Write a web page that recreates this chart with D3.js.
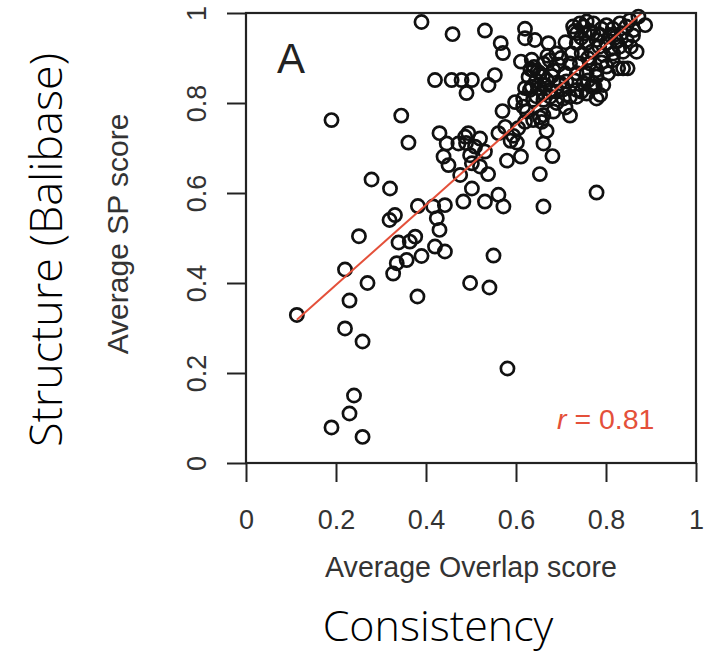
<!DOCTYPE html>
<html>
<head>
<meta charset="utf-8">
<script src="https://cdn.jsdelivr.net/npm/d3@7"></script>
<style>
  html, body { margin: 0; padding: 0; background: #fff; }
  svg { display: block; }
</style>
</head>
<body>
<svg id="chart" width="705" height="654"></svg>
<script>
// Average Overlap score (x) for each alignment
const overlapScore = [
  0.113,0.19,0.23,0.24,0.259,0.22,0.259,0.23,0.22,0.27,0.381,0.498,0.541,0.581,0.55,0.19,0.279,0.32,0.251,
  0.327,0.335,0.339,0.357,0.364,0.376,0.39,0.42,0.442,0.43,0.424,0.416,0.442,0.382,0.319,0.331,
  0.483,0.531,0.561,0.572,0.661,0.779,0.476,0.502,0.502,0.52,0.538,0.498,0.509,0.487,0.52,0.531,
  0.439,0.45,0.43,0.446,0.472,0.489,0.494,0.561,0.361,0.345,0.58,0.594,0.588,0.602,0.576,0.57,
  0.611,0.653,0.661,0.668,0.681,0.598,0.616,0.624,0.638,0.657,0.661,0.683,0.72,0.605,0.62,0.653,
  0.638,0.661,0.676,0.69,0.72,0.735,0.757,0.779,
  0.39,0.459,0.42,0.457,0.479,0.502,0.49,0.539,0.553,0.531,0.566,0.571,0.62,0.62,0.642,0.672,0.611,0.631,
  0.635,0.638,0.661,0.653,0.668,0.683,0.676,0.653,0.635,0.62,0.616,0.661,0.69,0.698,0.709,
  0.727,0.742,0.757,0.772,0.735,0.753,0.772,0.735,0.757,0.779,0.724,0.746,0.768,0.72,0.742,0.764,
  0.735,0.757,0.779,0.75,0.772,0.735,0.712,
  0.801,0.831,0.853,0.872,0.887,0.787,0.809,0.835,0.861,0.801,0.824,0.846,0.868,0.794,0.816,0.838,
  0.801,0.827,0.838,0.848,0.779,0.805,0.775,0.794,0.787,0.768,
  0.645,0.66,0.675,0.695,0.705,0.69,0.645,0.628,0.70,0.75,0.765,0.745,0.79,0.815,0.845,0.86,
  0.81,0.83,0.855,0.79,0.815,0.76,0.73,0.705,0.71,0.745,
  0.632,0.648,0.665,0.68,0.64,0.67,0.71,0.73,0.76,0.785,0.82
];
// Average SP score (y) for each alignment
const spScore = [
  0.329,0.079,0.11,0.15,0.058,0.299,0.27,0.361,0.43,0.40,0.37,0.40,0.39,0.21,0.461,0.762,0.63,0.61,0.504,
  0.421,0.444,0.49,0.451,0.492,0.503,0.46,0.481,0.47,0.518,0.544,0.57,0.573,0.571,0.54,0.551,
  0.581,0.581,0.596,0.57,0.57,0.601,0.64,0.61,0.666,0.659,0.642,0.684,0.703,0.725,0.721,0.692,
  0.681,0.662,0.733,0.71,0.71,0.711,0.733,0.733,0.712,0.772,0.672,0.727,0.716,0.712,0.747,0.782,
  0.681,0.642,0.71,0.738,0.682,0.802,0.792,0.781,0.762,0.758,0.773,0.781,0.772,0.744,0.758,0.768,
  0.807,0.807,0.814,0.8,0.814,0.814,0.821,0.81,
  0.98,0.953,0.851,0.851,0.851,0.851,0.822,0.84,0.862,0.961,0.933,0.911,0.965,0.944,0.94,0.933,0.892,0.829,
  0.896,0.873,0.888,0.866,0.851,0.873,0.829,0.833,0.836,0.833,0.81,0.821,0.91,0.844,0.866,
  0.97,0.977,0.981,0.977,0.955,0.955,0.955,0.933,0.933,0.94,0.91,0.91,0.914,0.888,0.888,0.888,
  0.866,0.866,0.873,0.844,0.844,0.829,0.848,
  0.973,0.977,0.984,0.992,0.973,0.951,0.951,0.955,0.962,0.933,0.937,0.94,0.914,0.907,0.91,0.914,
  0.881,0.877,0.877,0.877,0.859,0.866,0.836,0.84,0.818,0.836,
  0.85,0.86,0.895,0.885,0.83,0.825,0.815,0.858,0.90,0.97,0.96,0.945,0.965,0.965,0.97,0.95,
  0.92,0.925,0.925,0.89,0.895,0.85,0.85,0.81,0.79,0.825,
  0.875,0.87,0.84,0.86,0.88,0.905,0.935,0.96,0.9,0.925,0.945
];
const tickValues = [0, 0.2, 0.4, 0.6, 0.8, 1];
const tickLabels = ["0", "0.2", "0.4", "0.6", "0.8", "1"];
// Linear fit and correlation printed on the panel
const fitCoef = [0.218, 0.889]; // intercept, slope
const corrLabel = ["r", " = 0.81"];
const panelLabel = "A";
const xTitle = "Average Overlap score";
const yTitle = "Average SP score";
const outerX = "Consistency";
const outerY = "Structure (Balibase)";

const svg = d3.select("#chart");
const L = 246, R = 696, T = 13, B = 463;
const x = d3.scaleLinear().domain([0, 1]).range([L, R]);
const y = d3.scaleLinear().domain([0, 1]).range([B, T]);

const dark = "#222";
const textCol = "#333";
const red = "#e4503a";
const sansA = "'Liberation Sans', Arial, Helvetica, sans-serif";

svg.append("defs").append("clipPath").attr("id", "clip")
  .append("rect").attr("x", L).attr("y", T).attr("width", R - L).attr("height", B - T);

// points
const pts = overlapScore.map((v, i) => [v, spScore[i]]);
svg.append("g").selectAll("circle").data(pts).join("circle")
  .attr("cx", d => x(d[0])).attr("cy", d => y(d[1])).attr("r", 6.6)
  .attr("fill", "none").attr("stroke", "#111").attr("stroke-width", 2.7);

// regression line
const xmin = d3.min(overlapScore), xmax = d3.max(overlapScore);
svg.append("line").attr("clip-path", "url(#clip)")
  .attr("x1", x(xmin)).attr("y1", y(fitCoef[0] + fitCoef[1] * xmin))
  .attr("x2", x(xmax)).attr("y2", y(fitCoef[0] + fitCoef[1] * xmax))
  .attr("stroke", red).attr("stroke-width", 2);

// box
svg.append("rect").attr("x", L).attr("y", T).attr("width", R - L).attr("height", B - T)
  .attr("fill", "none").attr("stroke", dark).attr("stroke-width", 2.2);

// x axis
const gx = svg.append("g").attr("transform", `translate(0,${B})`)
  .call(d3.axisBottom(x).tickValues(tickValues).tickFormat((d, i) => tickLabels[i]).tickSize(19).tickPadding(0));
gx.select(".domain").remove();
gx.selectAll(".tick line").attr("stroke", dark).attr("stroke-width", 2);
gx.selectAll(".tick text").attr("y", 66).attr("dy", 0)
  .attr("font-family", sansA).attr("font-size", 27).attr("fill", textCol);

// y axis
const gy = svg.append("g").attr("transform", `translate(${L},0)`)
  .call(d3.axisLeft(y).tickValues(tickValues).tickFormat((d, i) => tickLabels[i]).tickSize(19).tickPadding(0));
gy.select(".domain").remove();
gy.selectAll(".tick line").attr("stroke", dark).attr("stroke-width", 2);
gy.selectAll(".tick text").attr("x", 0).attr("dy", 0).attr("text-anchor", "middle")
  .attr("transform", "translate(-40,0) rotate(-90)")
  .attr("font-family", sansA).attr("font-size", 27).attr("fill", textCol);

// axis titles
svg.append("text").attr("x", 471).attr("y", 577).attr("text-anchor", "middle")
  .attr("font-family", sansA).attr("font-size", 28.6).attr("fill", textCol).text(xTitle);
svg.append("text").attr("transform", `translate(128,234) rotate(-90)`).attr("text-anchor", "middle")
  .attr("font-family", sansA).attr("font-size", 30).attr("fill", textCol).text(yTitle);

// panel label
svg.append("text").attr("x", 277).attr("y", 73)
  .attr("font-family", sansA).attr("font-size", 42).attr("fill", dark).text(panelLabel);

// correlation label
const ct = svg.append("text").attr("x", 557).attr("y", 429)
  .attr("font-family", sansA).attr("font-size", 28.5).attr("fill", red);
ct.append("tspan").attr("font-style", "italic").text(corrLabel[0]);
ct.append("tspan").text(corrLabel[1]);

// outer titles
const sansB = "'Open Sans', 'Noto Sans', sans-serif";
svg.append("text").attr("x", 438).attr("y", 641).attr("text-anchor", "middle")
  .attr("font-family", sansB).attr("font-weight", 300).attr("font-size", 43).attr("fill", "#000").text(outerX);
svg.append("text").attr("transform", `translate(62,250) rotate(-90)`).attr("text-anchor", "middle")
  .attr("font-family", sansB).attr("font-weight", 300).attr("font-size", 45).attr("fill", "#000").text(outerY);
</script>
</body>
</html>
